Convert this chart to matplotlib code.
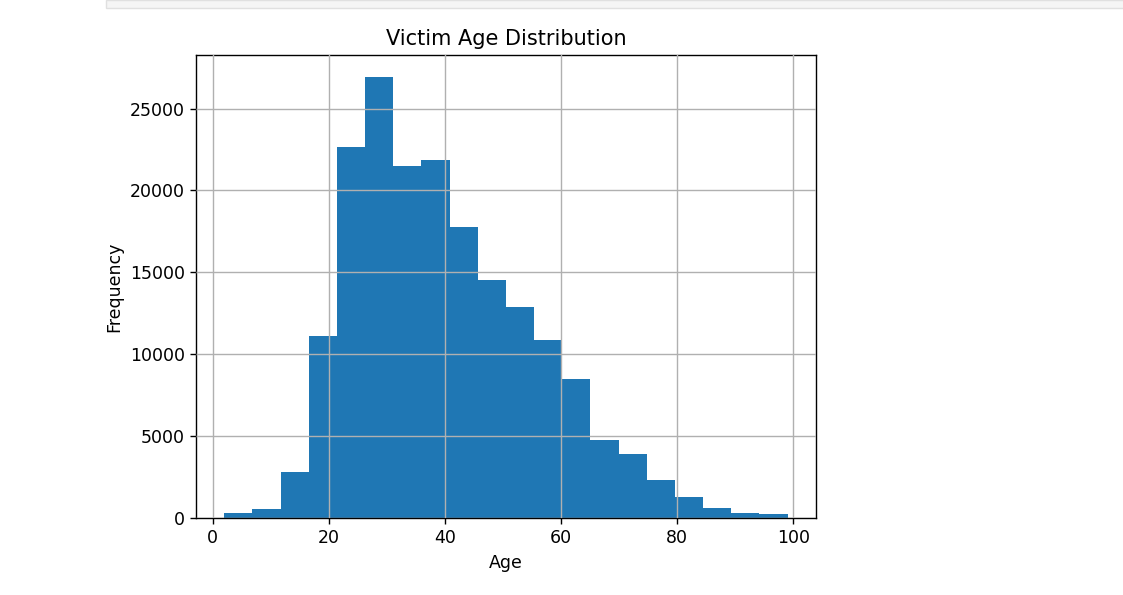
from matplotlib import pyplot as plt
from matplotlib.patches import Rectangle

# histogram bins (20 equal bins from age 2 to 99) and counts
bin_edges = [2 + i * (99 - 2) / 20 for i in range(21)]
counts = [300, 550, 2780, 11100, 22640, 26930, 21480, 21890, 17750, 14550,
          12850, 10870, 8500, 4740, 3900, 2310, 1290, 610, 300, 210]
bin_left = bin_edges[:-1]
bin_width = [b - a for a, b in zip(bin_edges[:-1], bin_edges[1:])]


def main():
    plt.rcParams['font.family'] = ['DejaVu Sans']
    fig = plt.figure(figsize=(11.23, 5.95), dpi=100)

    # notebook cell strip at the very top of the screenshot
    fig.patches.append(Rectangle((106 / 1123, 1 - 8 / 595), 1.0, 8 / 595,
                                 transform=fig.transFigure, facecolor='#f5f5f5',
                                 edgecolor='#e0e0e0', lw=1))

    ax = fig.add_axes([196 / 1123, (595 - 517.7) / 595, 619.7 / 1123, 462.7 / 595])
    ax.bar(bin_left, counts, width=bin_width, align='edge', color='#1f77b4',
           zorder=1)
    ax.grid(True, color='#b0b0b0', lw=1.0, zorder=2)
    ax.set_axisbelow(False)
    ax.set_xlim(-2.85, 103.85)
    ax.set_ylim(0, max(counts) * 1.05)
    ax.set_xticks([0, 20, 40, 60, 80, 100])
    ax.set_yticks([0, 5000, 10000, 15000, 20000, 25000])
    ax.tick_params(labelsize=12.5, length=4.5, width=1)
    for s in ax.spines.values():
        s.set_linewidth(1.0)

    ax.set_title("Victim Age Distribution", fontsize=15, pad=7)
    ax.set_xlabel("Age", fontsize=12.5, labelpad=5)
    ax.set_ylabel("Frequency", fontsize=12.5, labelpad=5)

    plt.savefig('out.png', dpi=100)


if __name__ == "__main__":
    main()
